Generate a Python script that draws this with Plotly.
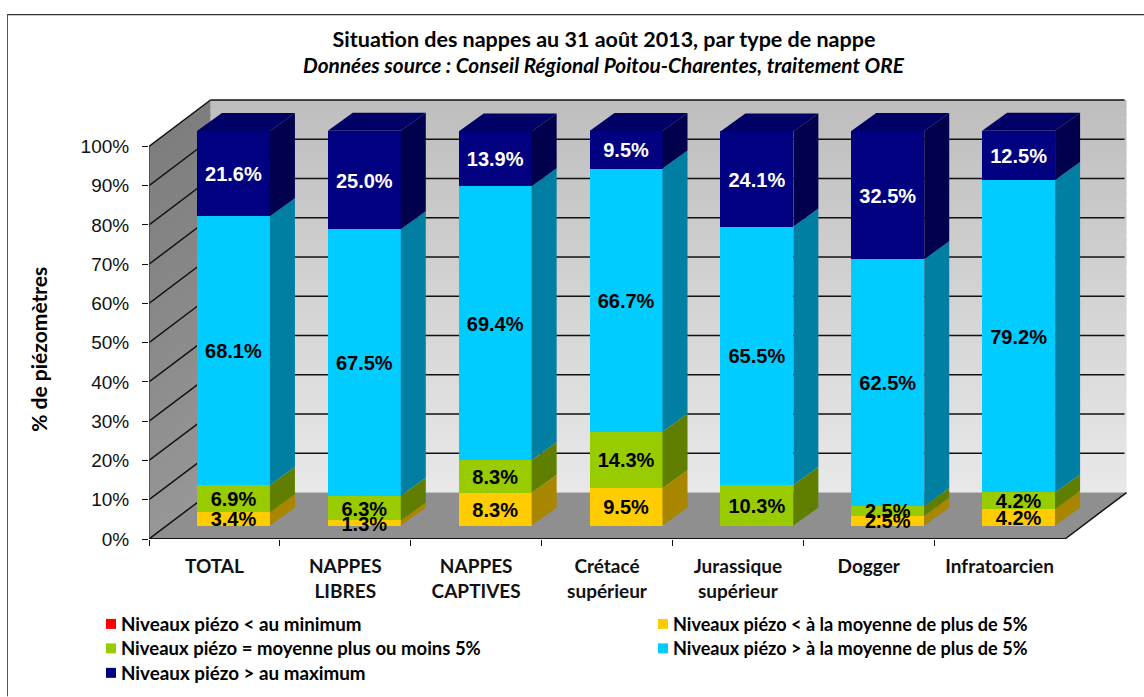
import plotly.graph_objects as go

# ---- data -------------------------------------------------------------
categories = ["TOTAL", "NAPPES<br>LIBRES", "NAPPES<br>CAPTIVES", "Crétacé<br>supérieur",
              "Jurassique<br>supérieur", "Dogger", "Infratoarcien"]
below_min = [0, 0, 0, 0, 0, 0, 0]
below_mean = [3.4, 1.3, 8.3, 9.5, 0, 2.5, 4.2]
near_mean = [6.9, 6.3, 8.3, 14.3, 10.3, 2.5, 4.2]
above_mean = [68.1, 67.5, 69.4, 66.7, 65.5, 62.5, 79.2]
above_max = [21.6, 25.0, 13.9, 9.5, 24.1, 32.5, 12.5]
series_names = ["Niveaux piézo < au minimum", "Niveaux piézo < à la moyenne de plus de 5%",
                "Niveaux piézo = moyenne plus ou moins 5%", "Niveaux piézo > à la moyenne de plus de 5%",
                "Niveaux piézo > au maximum"]
y_ticks = [0, 10, 20, 30, 40, 50, 60, 70, 80, 90, 100]
y_tick_labels = ["0%", "10%", "20%", "30%", "40%", "50%", "60%", "70%", "80%", "90%", "100%"]

# ---- style ------------------------------------------------------------
front = ["#FF0000", "#FFCC00", "#99CC00", "#00CCFF", "#000080"]
side = ["#A80000", "#A88600", "#607F00", "#007FA3", "#00004D"]
top_colour = "#000066"
text_colour = ["black", "black", "black", "black", "white"]
legend_x = [106, 658, 106, 658, 106]
legend_y = [624.5, 624.5, 649, 649, 673.5]
legend_size = [18.8, 18.1, 18.5, 18.1, 18.8]

L, R, T, B = 149, 1135, 95, 539.5
PX_X = 130.86
PX_Y = 3.93
x_range = [-0.5, -0.5 + (R - L) / PX_X]
y_range = [0, (B - T) / PX_Y]
wall_dx, wall_dy = 61.5 / PX_X, 46.5 / PX_Y
bar_dx, bar_dy = 19 / PX_X, 13.4 / PX_Y
side_dx, side_dy = 25 / PX_X, 18 / PX_Y
bar_w = 73 / PX_X
label_dy = 2.5 / PX_Y
scale = 1.005
n = len(categories)


def px(x):
    return (x - L) / (R - L)


def py(y):
    return (B - y) / (B - T)


def mix(a, b, t):
    return "rgb(%d,%d,%d)" % tuple(round(a[i] + (b[i] - a[i]) * t) for i in range(3))


fig = go.Figure()
series = [below_min, below_mean, near_mean, above_mean, above_max]
cum = [0.0] * n
bases = []
for vals in series:
    bases.append(list(cum))
    cum = [c + v for c, v in zip(cum, vals)]

xs = [i + bar_dx for i in range(n)]
for s, vals in enumerate(series):
    base = [bar_dy + b * scale for b in bases[s]]
    h = [v * scale for v in vals]
    fig.add_trace(go.Bar(x=xs, y=h, base=base, width=bar_w, name=series_names[s],
                         marker=dict(color=front[s], line=dict(width=0)),
                         showlegend=False, hoverinfo="skip"))

for s, vals in enumerate(series):
    px_, py_ = [], []
    for i in range(n):
        if vals[i] <= 0:
            continue
        x0 = xs[i] + bar_w / 2
        b = bar_dy + bases[s][i] * scale
        t = b + vals[i] * scale
        px_ += [x0, x0 + side_dx, x0 + side_dx, x0, x0, None]
        py_ += [b, b + side_dy, t + side_dy, t, b, None]
    if px_:
        fig.add_trace(go.Scatter(x=px_, y=py_, mode="lines", fill="toself", fillcolor=side[s],
                                 line=dict(width=0), showlegend=False, hoverinfo="skip"))

tx, ty = [], []
for i in range(n):
    x0 = xs[i] - bar_w / 2
    t = bar_dy + sum(v[i] for v in series) * scale
    tx += [x0, x0 + bar_w, x0 + bar_w + side_dx, x0 + side_dx, x0, None]
    ty += [t, t, t + side_dy, t + side_dy, t, None]
fig.add_trace(go.Scatter(x=tx, y=ty, mode="lines", fill="toself", fillcolor=top_colour,
                         line=dict(width=0), showlegend=False, hoverinfo="skip"))

for s, vals in enumerate(series):
    lx, ly, lt = [], [], []
    for i in range(n):
        if vals[i] > 0:
            lx.append(xs[i])
            ly.append(bar_dy + (bases[s][i] + vals[i] / 2) * scale - label_dy)
            lt.append(f"{vals[i]:.1f}%")
    if lx:
        fig.add_trace(go.Scatter(x=lx, y=ly, text=lt, mode="text", textposition="middle center",
                                 textfont=dict(family="Liberation Sans", size=20, color=text_colour[s], weight="bold"),
                                 showlegend=False, hoverinfo="skip", cliponaxis=False))

# ---- 3-D box (walls, floor, grid) ---------------------------------------
shapes = []
xl, xr = -0.5, 6.5
steps = 50
for k in range(steps):
    y0 = 100 * k / steps
    y1 = min(100, 100 * (k + 1) / steps + 0.5)
    c = mix((232, 232, 232), (190, 190, 190), k / (steps - 1))
    shapes.append(dict(type="rect", layer="below", xref="x", yref="y", x0=xl + wall_dx, x1=xr + wall_dx,
                       y0=y0 + wall_dy, y1=y1 + wall_dy, fillcolor=c, line=dict(width=0)))
    c = mix((150, 150, 150), (126, 126, 126), k / (steps - 1))
    path = f"M{xl},{y0} L{xl + wall_dx},{y0 + wall_dy} L{xl + wall_dx},{y1 + wall_dy} L{xl},{y1} Z"
    shapes.append(dict(type="path", layer="below", xref="x", yref="y", path=path, fillcolor=c, line=dict(width=0)))

floor = f"M{xl},0 L{xr},0 L{xr + wall_dx},{wall_dy} L{xl + wall_dx},{wall_dy} Z"
shapes.append(dict(type="path", layer="below", xref="x", yref="y", path=floor, fillcolor="#8F8F8F", line=dict(width=0)))
for g in y_ticks:
    if g > 0:
        shapes.append(dict(type="line", layer="below", xref="x", yref="y", x0=xl + wall_dx, x1=xr + wall_dx - 0.015,
                           y0=g + wall_dy, y1=g + wall_dy, line=dict(color="#111111", width=1.5)))
    shapes.append(dict(type="line", layer="below", xref="x", yref="y", x0=xl, x1=xl + wall_dx,
                       y0=g, y1=g + wall_dy, line=dict(color="#111111", width=1.5)))
shapes.append(dict(type="line", layer="below", xref="x", yref="y", x0=xl, x1=xl, y0=0, y1=100,
                   line=dict(color="#444444", width=1.5)))
shapes.append(dict(type="line", layer="below", xref="x", yref="y", x0=xl, x1=xr, y0=0, y1=0,
                   line=dict(color="#111111", width=2)))
shapes.append(dict(type="line", layer="below", xref="x", yref="y", x0=xr, x1=xr + wall_dx, y0=0, y1=wall_dy,
                   line=dict(color="#111111", width=1.5)))
# outer frame
shapes.append(dict(type="line", xref="paper", yref="paper", x0=px(7), x1=px(1144), y0=py(14.5), y1=py(14.5),
                   line=dict(color="#333333", width=1.2)))
shapes.append(dict(type="line", xref="paper", yref="paper", x0=px(7.5), x1=px(7.5), y0=py(14.5), y1=py(697),
                   line=dict(color="#555555", width=1)))

annotations = [
    dict(text="<b>% de piézomètres</b>", xref="paper", yref="paper", x=px(39), y=py(350), xanchor="center",
         yanchor="middle", textangle=-90, showarrow=False, font=dict(family="Lato", size=21, color="black")),
    dict(text="<b><i>Données source : Conseil Régional Poitou-Charentes, traitement ORE</i></b>",
         xref="paper", yref="paper", x=px(604), y=py(64), xanchor="center", yanchor="middle", showarrow=False,
         font=dict(family="Lato", size=20.8, color="black")),
]
# legend: swatch and label for each series
for s, name in enumerate(series_names):
    sx, sy = legend_x[s], legend_y[s]
    shapes.append(dict(type="rect", xref="paper", yref="paper", x0=px(sx), x1=px(sx + 10),
                       y0=py(sy - 5), y1=py(sy + 5), fillcolor=front[s], line=dict(width=0)))
    annotations.append(dict(text=f"<b>{name.replace('<', '&lt;').replace('>', '&gt;')}</b>", xref="paper", yref="paper",
                            x=px(sx + 13), y=py(sy), xanchor="left", yanchor="middle", showarrow=False,
                            font=dict(family="Lato", size=legend_size[s], color="black")))

fig.update_layout(
    width=1144, height=697, autosize=False, paper_bgcolor="white", plot_bgcolor="rgba(0,0,0,0)",
    margin=dict(l=L, r=1144 - R, t=T, b=697 - B, pad=0, autoexpand=False),
    barmode="overlay", bargap=0, shapes=shapes, annotations=annotations, showlegend=False,
    title=dict(text="<b>Situation des nappes au 31 août 2013, par type de nappe</b>",
               x=px(604), xref="paper", xanchor="center", y=1 - 39 / 697, yref="container", yanchor="middle",
               font=dict(family="Lato", size=21.5, color="black")),
    xaxis=dict(range=x_range, tickmode="array", tickvals=list(range(n)), ticktext=categories, ticks="",
               showgrid=False, zeroline=False, showline=False, ticklabelstandoff=14,
               tickfont=dict(family="Lato", size=19, color="#111111", weight="bold"),
               minor=dict(tickmode="array", tickvals=[i - 0.5 for i in range(n)], ticks="outside", ticklen=6,
                          tickcolor="#111111", tickwidth=1, showgrid=False)),
    yaxis=dict(range=y_range, tickmode="array", tickvals=y_ticks, ticktext=y_tick_labels, ticks="outside", ticklen=6,
               tickcolor="#111111", tickwidth=1, showgrid=False, zeroline=False, showline=False,
               tickfont=dict(family="Liberation Sans", size=19, color="#111111"), ticklabelstandoff=9),
)
fig.write_html("out.html", config=dict(displayModeBar=False),
               post_script="document.body.style.margin='0';document.body.style.overflow='hidden';")
